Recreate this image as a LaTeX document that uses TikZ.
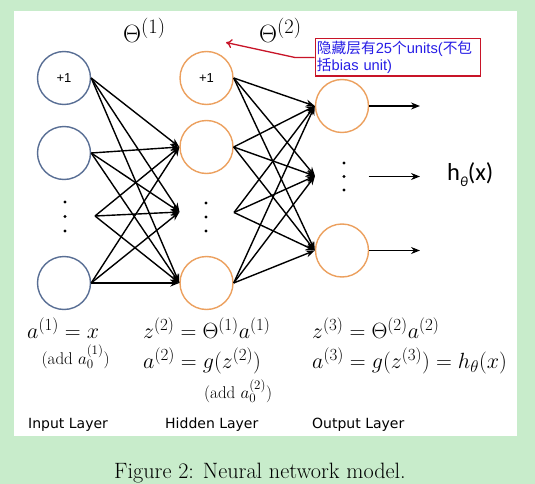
\RequirePackage{fix-cm}
\documentclass[tikz,border=0pt]{standalone}
\usepackage{fontspec}
\usetikzlibrary{arrows.meta}
\newfontfamily\dejavu{DejaVu Sans}
\newfontfamily\arialf{Liberation Sans}
\newfontfamily\calib{Carlito}
\newfontfamily\cjk{Noto Sans CJK SC}
\DeclareMathSizes{22}{22}{17}{13}
\DeclareMathSizes{25}{25}{20.5}{15}
\DeclareMathSizes{17}{17}{13}{10}
\definecolor{bgcol}{RGB}{200,236,203}
\definecolor{inpcol}{RGB}{88,110,148}
\definecolor{hidcol}{RGB}{236,160,94}
\definecolor{annred}{RGB}{200,20,40}
\definecolor{annblue}{RGB}{40,30,230}
\begin{document}
\begin{tikzpicture}[x=1pt,y=-1pt,
  inp/.style={circle,draw=inpcol,line width=1.4pt,minimum size=53pt,inner sep=0pt,font=\arialf\fontsize{13}{13}\selectfont},
  hid/.style={circle,draw=hidcol,line width=1.4pt,minimum size=53pt,inner sep=0pt,font=\arialf\fontsize{13}{13}\selectfont},
  conn/.style={line width=1.4pt,-{Stealth[length=9pt,width=7pt]}},
  dotn/.style={circle,fill=black,inner sep=0pt,minimum size=3.2pt},
  mathtxt/.style={anchor=base west,inner sep=0pt,font=\fontsize{22}{26}\selectfont},
  smalltxt/.style={anchor=base west,inner sep=0pt,font=\fontsize{17}{20}\selectfont},
  thetatxt/.style={anchor=base west,inner sep=0pt,font=\fontsize{25}{28}\selectfont},
  laytxt/.style={anchor=base west,inner sep=0pt,font=\dejavu\fontsize{14}{16}\selectfont}]
\useasboundingbox (0,0) rectangle (535,484);
\fill[bgcol] (0,0) rectangle (535,484);
\fill[white] (14,11) rectangle (517,436);

% input layer
\node[inp] (i0) at (64,78) {+1};
\node[inp] (i1) at (64,153) {};
\node[inp] (in) at (64,283) {};
\node[dotn] (id1) at (65,202) {};
\node[dotn] (id2) at (65,216.5) {};
\node[dotn] (id3) at (65,231) {};
\coordinate (isrc) at (95,216);

% hidden layer
\node[hid] (h0) at (206.5,78) {+1};
\node[hid] (h1) at (206.5,147) {};
\node[hid] (hn) at (206.5,283) {};
\node[dotn] (hd1) at (206,203) {};
\node[dotn] (hd2) at (206,217) {};
\node[dotn] (hd3) at (206,231) {};
\coordinate (htgt) at (179.5,212);
\coordinate (hsrc) at (234,212.5);

% output layer
\node[hid] (o1) at (342,106) {};
\node[hid] (on) at (342,250.5) {};
\node[dotn] (od1) at (344,163) {};
\node[dotn] (od2) at (344,176.5) {};
\node[dotn] (od3) at (344,190) {};
\coordinate (otgt) at (315,176);
\coordinate (omid) at (368.5,176.5);
\coordinate (e1) at (420,106);
\coordinate (e2) at (420,176.5);
\coordinate (e3) at (420,250.5);

% input -> hidden
\foreach \s in {i0.east,i1.east,isrc,in.east}{
  \foreach \t in {h1.west,htgt,hn.west}{
    \draw[conn] (\s) -- (\t);
  }
}
% hidden -> output
\foreach \s in {h0.east,h1.east,hsrc,hn.east}{
  \foreach \t in {o1.west,otgt,on.west}{
    \draw[conn] (\s) -- (\t);
  }
}
% outputs
\draw[conn] (o1.east) -- (e1);
\draw[conn] (omid) -- (e2);
\draw[conn] (on.east) -- (e3);

\node[anchor=west,inner sep=0pt,font=\calib\fontsize{24.5}{24.5}\selectfont] (hx) at (447,175) {h\raisebox{-0.25em}{\fontsize{14}{14}\selectfont\itshape θ}(x)};

% Thetas
\node[thetatxt] (t1) at (123,42.5) {$\Theta^{(1)}$};
\node[thetatxt] (t2) at (259,42.5) {$\Theta^{(2)}$};

% annotation
\node[draw=annred,line width=1.5pt,anchor=north west,inner xsep=1.5pt,inner ysep=2.5pt,text width=162pt,align=left,text=annblue,font=\arialf\fontsize{14.7}{17}\selectfont] (ann) at (314.7,38) {{\cjk 隐藏层有}25{\cjk 个}units({\cjk 不包}\\{\cjk 括}bias unit)};
\coordinate (bend) at (295,57.5);
\coordinate (tip) at (226,42.5);
\draw[annred,line width=1.3pt,-{To[length=6pt,width=9pt]}] (ann.west |- bend) -- (bend) -- (tip);

% formulas
\node[mathtxt] (f1) at (27,338) {$a^{(1)} = x$};
\node[smalltxt] (f2) at (41.5,364) {(add $a_0^{(1)}$)};
\node[mathtxt] (f3) at (143,338) {$z^{(2)} = \Theta^{(1)}a^{(1)}$};
\node[mathtxt] (f4) at (143,368) {$a^{(2)} = g(z^{(2)})$};
\node[smalltxt] (f5) at (204,398.5) {(add $a_0^{(2)}$)};
\node[mathtxt] (f6) at (312,338) {$z^{(3)} = \Theta^{(2)}a^{(2)}$};
\node[mathtxt] (f7) at (312,368) {$a^{(3)} = g(z^{(3)}) = h_\theta(x)$};

% layer labels
\node[laytxt] (l1) at (28,428) {Input Layer};
\node[laytxt] (l2) at (165,428) {Hidden Layer};
\node[laytxt] (l3) at (312,428) {Output Layer};

% caption
\node[anchor=base,inner sep=0pt,font=\fontsize{22.2}{26}\selectfont] (cap) at (260,478) {Figure 2: Neural network model.};
\end{tikzpicture}
\end{document}
